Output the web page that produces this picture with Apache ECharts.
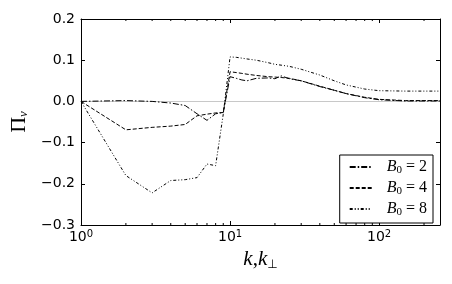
<!DOCTYPE html>
<html>
<head>
<meta charset="utf-8">
<script src="https://cdn.jsdelivr.net/npm/echarts@6/dist/echarts.min.js"></script>
<style>html,body{margin:0;padding:0;background:#fff}#c{width:452px;height:284px}</style>
</head>
<body>
<div id="c"></div>
<script>
// wavenumbers
const k = [1,2,3,4,5,6,7,8,9,10,11,12,13,15,18,20,22,25,30,40,50,60,80,100,150,200,256];
const B0_2 = [0,0.002,0.0,-0.004,-0.01,-0.03,-0.046,-0.03,-0.027,0.06,0.056,0.052,0.05,0.056,0.057,0.055,0.062,0.055,0.05,0.036,0.027,0.019,0.009,0.004,0.001,0.001,0.001];
const B0_4 = [0,-0.069,-0.063,-0.06,-0.056,-0.035,-0.031,-0.028,-0.027,0.072,0.07,0.068,0.066,0.063,0.06,0.059,0.058,0.056,0.05,0.037,0.027,0.019,0.01,0.005,0.002,0.002,0.002];
const B0_8 = [0,-0.18,-0.222,-0.192,-0.19,-0.185,-0.152,-0.156,-0.031,0.108,0.107,0.105,0.103,0.1,0.094,0.09,0.088,0.085,0.078,0.064,0.05,0.04,0.03,0.026,0.025,0.025,0.025];
const seriesNames = ['B0=2','B0=4','B0=8'];
const minorK = [2,3,4,5,6,7,8,9,20,30,40,50,60,70,80,90,200];
const xMin = 1, xMax = 256, yMin = -0.3, yMax = 0.2, yStep = 0.1;

const pairs = v => k.map((x,i)=>[x, v[i]]);
const serif = 'Liberation Serif';
const sans = 'DejaVu Sans';

const chart = echarts.init(document.getElementById('c'), null, {renderer:'canvas'});
const axisCommon = {
  axisLine:{show:true, onZero:false, lineStyle:{color:'#000', width:1}},
  axisTick:{show:true, inside:true, length:4, lineStyle:{color:'#000', width:1}},
  splitLine:{show:false}
};
const lineStyles = [[6,2,1.5,2],[4,2],[3,2,1,2,1,2]];
const series = [B0_2, B0_4, B0_8].map((v,i)=>({
  name: seriesNames[i], type:'line', data: pairs(v), symbol:'none', smooth:false,
  lineStyle:{color:'#000', width:1, type: lineStyles[i]}, itemStyle:{color:'#000'},
  z: 3,
  markLine: i===0 ? {silent:true, symbol:'none', label:{show:false},
    lineStyle:{color:'#c8c8c8', type:'solid', width:1}, data:[{yAxis:0}], z:1} : undefined
}));
series.push({
  type:'custom', name:'minor', silent:true, z:4,
  data: minorK.map(x=>[x]),
  renderItem: (params, api) => {
    const x = api.value(0);
    const pb = api.coord([x, yMin]);
    const pt = api.coord([x, yMax]);
    return {type:'group', children:[
      {type:'line', shape:{x1:pb[0], y1:pb[1], x2:pb[0], y2:pb[1]-2}, style:{stroke:'#000', lineWidth:1}},
      {type:'line', shape:{x1:pt[0], y1:pt[1], x2:pt[0], y2:pt[1]+2}, style:{stroke:'#000', lineWidth:1}}
    ]};
  }
});

chart.setOption({
  animation:false,
  grid:{left:81, right:12, top:19, bottom:59, containLabel:false},
  xAxis:[
    Object.assign({}, axisCommon, {type:'log', logBase:10, min:xMin, max:xMax, position:'bottom',
      name:'{k|k}{c|,}{k|k}{s|⊥}', nameLocation:'middle', nameGap:24,
      nameTextStyle:{rich:{
        k:{fontFamily:serif, fontStyle:'italic', fontSize:21, color:'#000'},
        c:{fontFamily:serif, fontSize:21, color:'#000'},
        s:{fontFamily:'DejaVu Sans', fontSize:12, color:'#000', padding:[9,0,0,0]}
      }},
      axisLabel:{margin:4, showMaxLabel:false, formatter: v => {
        const e = Math.round(Math.log10(v));
        if (Math.abs(Math.log10(v)-e) > 1e-6) return '';
        return '{b|10}{p|' + e + '}';
      }, rich:{
        b:{fontFamily:sans, fontSize:14, color:'#000'},
        p:{fontFamily:sans, fontSize:10, color:'#000', padding:[0,0,7,0]}
      }}
    }),
    Object.assign({}, axisCommon, {type:'log', logBase:10, min:xMin, max:xMax, position:'top', axisLabel:{show:false}})
  ],
  yAxis:[
    Object.assign({}, axisCommon, {type:'value', min:yMin, max:yMax, interval:yStep, position:'left',
      name:'{p|Π}{v|v}', nameLocation:'middle', nameRotate:90, nameGap:49,
      nameTextStyle:{rich:{
        p:{fontFamily:serif, fontSize:22, color:'#000'},
        v:{fontFamily:serif, fontStyle:'italic', fontSize:13, color:'#000', padding:[8,0,0,0]}
      }},
      axisLabel:{margin:6, fontFamily:sans, fontSize:14, color:'#000',
        formatter: v => (v < -1e-9 ? '\u2212' : '') + Math.abs(v).toFixed(1)}
    }),
    Object.assign({}, axisCommon, {type:'value', min:yMin, max:yMax, interval:yStep, position:'right', axisLabel:{show:false}})
  ],
  legend:{
    data: seriesNames, orient:'vertical', right:19, bottom:61,
    backgroundColor:'#fff', borderColor:'#000', borderWidth:1, borderRadius:0,
    padding:[4,6,5,9], itemWidth:22, itemHeight:10, itemGap:4, z:10,
    itemStyle:{color:'rgba(0,0,0,0)', borderWidth:0, opacity:0},
    formatter: n => '{i|B}{s|0}{n| = ' + n.split('=')[1] + '}',
    textStyle:{padding:[0,0,0,10], rich:{
      i:{fontFamily:serif, fontStyle:'italic', fontSize:16, color:'#000'},
      s:{fontFamily:serif, fontSize:11, color:'#000', padding:[7,0,0,0]},
      n:{fontFamily:serif, fontSize:16, color:'#000'}
    }}
  },
  series: series
});
</script>
</body>
</html>
